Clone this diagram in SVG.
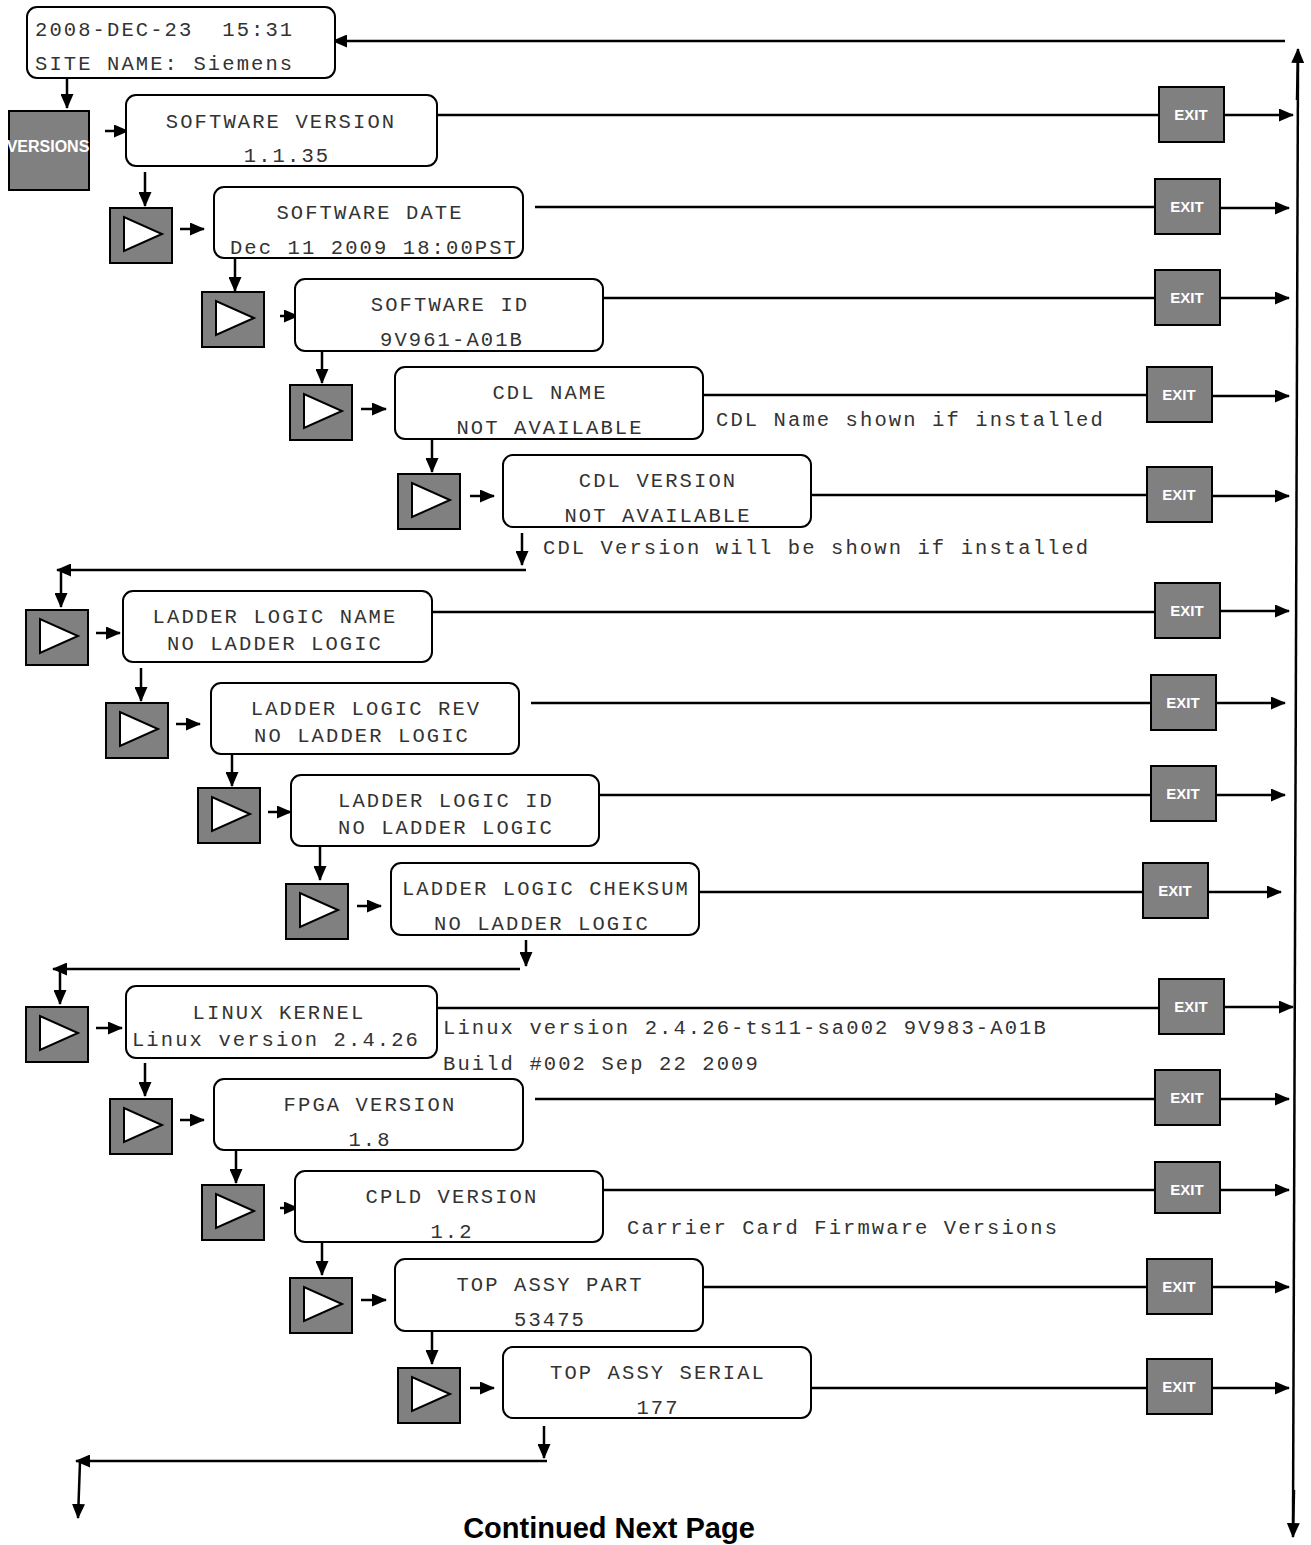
<svg xmlns="http://www.w3.org/2000/svg" width="1311" height="1545" viewBox="0 0 1311 1545">
<style>
.bx{fill:#fff;stroke:#000;stroke-width:2}
.mono{font-family:"Liberation Mono","Courier New",monospace;font-size:20.5px;letter-spacing:2.1px;fill:#333;white-space:pre}
.c{text-anchor:middle}
.btn{fill:#808080;stroke:#000;stroke-width:2}
.tri{fill:#fff;stroke:#000;stroke-width:2}
.bt{font-family:"Liberation Sans",Arial,sans-serif;font-weight:bold;fill:#fff;text-anchor:middle}
.ln{fill:none;stroke:#000;stroke-width:2.5}
.ar{fill:none;stroke:#000;stroke-width:2.5;marker-end:url(#ah)}
</style>
<defs>
<marker id="ah" markerUnits="userSpaceOnUse" markerWidth="15" markerHeight="13" refX="14" refY="6.5" orient="auto">
<path d="M0,0 L15,6.5 L0,13 z" fill="#000"/>
</marker>
<symbol id="play" viewBox="0 0 64 57"><rect class="btn" x="1" y="1" width="62" height="55"/><path class="tri" d="M15,10 L15,44 L53,27 z"/></symbol>
</defs>

<g id="connectors">
<path class="ar" d="M1285,41 L333,41"/>
<path class="ln" d="M1298,62 L1293,1525"/>
<path class="ar" d="M1297,100 L1298,49"/>
<path class="ar" d="M1294,1490 L1293,1537"/>
<path class="ar" d="M67,78 L67,108"/>
<path class="ar" d="M105,131 L128,131"/>
<path class="ln" d="M437,115 L1159,115"/><path class="ar" d="M1224,115 L1293,115"/>
<path class="ar" d="M145,172 L145,206"/>
<path class="ar" d="M180,229 L204,229"/>
<path class="ln" d="M535,207 L1155,207"/><path class="ar" d="M1220,208 L1289,208"/>
<path class="ar" d="M235,258 L235,291"/>
<path class="ar" d="M280,316 L298,316"/>
<path class="ln" d="M603,298 L1155,298"/><path class="ar" d="M1220,298 L1289,298"/>
<path class="ar" d="M322,351 L322,383"/>
<path class="ar" d="M361,409 L386,409"/>
<path class="ln" d="M703,395 L1147,395"/><path class="ar" d="M1212,396 L1289,396"/>
<path class="ar" d="M432,439 L432,472"/>
<path class="ar" d="M470,496 L494,496"/>
<path class="ln" d="M811,495 L1147,495"/><path class="ar" d="M1212,496 L1289,496"/>
<path class="ar" d="M522,533 L522,565"/>
<path class="ar" d="M526,570 L57,570"/>
<path class="ar" d="M61,572 L61,607"/>
<path class="ar" d="M96,633 L120,633"/>
<path class="ln" d="M432,612 L1155,612"/><path class="ar" d="M1220,611 L1289,611"/>
<path class="ar" d="M141,668 L141,701"/>
<path class="ar" d="M176,724 L200,724"/>
<path class="ln" d="M531,703 L1151,703"/><path class="ar" d="M1216,703 L1285,703"/>
<path class="ar" d="M232,754 L232,786"/>
<path class="ar" d="M268,812 L291,812"/>
<path class="ln" d="M599,795 L1151,795"/><path class="ar" d="M1216,795 L1285,795"/>
<path class="ar" d="M320,846 L320,880"/>
<path class="ar" d="M357,906 L381,906"/>
<path class="ln" d="M699,892 L1143,892"/><path class="ar" d="M1208,892 L1281,892"/>
<path class="ar" d="M526,940 L526,966"/>
<path class="ar" d="M520,969 L53,969"/>
<path class="ar" d="M60,970 L60,1004"/>
<path class="ar" d="M96,1028 L122,1028"/>
<path class="ln" d="M437,1008 L1159,1008"/><path class="ar" d="M1224,1007 L1293,1007"/>
<path class="ar" d="M145,1063 L145,1096"/>
<path class="ar" d="M180,1120 L204,1120"/>
<path class="ln" d="M535,1099 L1155,1099"/><path class="ar" d="M1220,1099 L1289,1099"/>
<path class="ar" d="M236,1150 L236,1183"/>
<path class="ar" d="M280,1208 L298,1208"/>
<path class="ln" d="M603,1190 L1155,1190"/><path class="ar" d="M1220,1190 L1289,1190"/>
<path class="ar" d="M322,1242 L322,1275"/>
<path class="ar" d="M361,1300 L386,1300"/>
<path class="ln" d="M703,1287 L1147,1287"/><path class="ar" d="M1212,1287 L1289,1287"/>
<path class="ar" d="M432,1331 L432,1364"/>
<path class="ar" d="M470,1388 L494,1388"/>
<path class="ln" d="M811,1388 L1147,1388"/><path class="ar" d="M1212,1388 L1289,1388"/>
<path class="ar" d="M544,1426 L544,1458"/>
<path class="ar" d="M547,1461 L76,1461"/>
<path class="ar" d="M80,1462 L78,1518"/>
</g>

<g id="home"><rect class="bx" x="27" y="7" width="308" height="71" rx="10"/>
<text class="mono" x="35" y="36">2008-DEC-23  15:31</text>
<text class="mono" x="35" y="70">SITE NAME: Siemens</text></g>

<g id="versions"><rect class="btn" x="9" y="111" width="80" height="79"/>
<text class="bt" x="48" y="152" font-size="16">VERSIONS</text></g>

<g id="n1"><rect class="bx" x="126" y="95" width="311" height="71" rx="10"/>
<text class="mono c" x="281" y="128">SOFTWARE VERSION</text><text class="mono c" x="287" y="162">1.1.35</text></g>
<g id="e1"><rect class="btn" x="1159" y="87" width="65" height="55"/><text class="bt" x="1191" y="120" font-size="15">EXIT</text></g>

<g id="p2"><use href="#play" x="109" y="207" width="64" height="57"/></g>
<g id="n2"><rect class="bx" x="214" y="187" width="309" height="71" rx="10"/>
<text class="mono c" x="370" y="219">SOFTWARE DATE</text><text class="mono c" x="374" y="254">Dec 11 2009 18:00PST</text></g>
<g id="e2"><rect class="btn" x="1155" y="179" width="65" height="55"/><text class="bt" x="1187" y="212" font-size="15">EXIT</text></g>

<g id="p3"><use href="#play" x="201" y="291" width="64" height="57"/></g>
<g id="n3"><rect class="bx" x="295" y="279" width="308" height="72" rx="10"/>
<text class="mono c" x="450" y="311">SOFTWARE ID</text><text class="mono c" x="452" y="346">9V961-A01B</text></g>
<g id="e3"><rect class="btn" x="1155" y="270" width="65" height="55"/><text class="bt" x="1187" y="303" font-size="15">EXIT</text></g>

<g id="p4"><use href="#play" x="289" y="384" width="64" height="57"/></g>
<g id="n4"><rect class="bx" x="395" y="367" width="308" height="72" rx="10"/>
<text class="mono c" x="550" y="399">CDL NAME</text><text class="mono c" x="550" y="434">NOT AVAILABLE</text></g>
<g id="e4"><rect class="btn" x="1147" y="367" width="65" height="55"/><text class="bt" x="1179" y="400" font-size="15">EXIT</text></g>
<text class="mono" x="716" y="426">CDL Name shown if installed</text>

<g id="p5"><use href="#play" x="397" y="473" width="64" height="57"/></g>
<g id="n5"><rect class="bx" x="503" y="455" width="308" height="72" rx="10"/>
<text class="mono c" x="658" y="487">CDL VERSION</text><text class="mono c" x="658" y="522">NOT AVAILABLE</text></g>
<g id="e5"><rect class="btn" x="1147" y="467" width="65" height="55"/><text class="bt" x="1179" y="500" font-size="15">EXIT</text></g>
<text class="mono" x="543" y="554">CDL Version will be shown if installed</text>

<g id="p6"><use href="#play" x="25" y="609" width="64" height="57"/></g>
<g id="n6"><rect class="bx" x="123" y="591" width="309" height="71" rx="10"/>
<text class="mono c" x="275" y="623">LADDER LOGIC NAME</text><text class="mono c" x="275" y="650">NO LADDER LOGIC</text></g>
<g id="e6"><rect class="btn" x="1155" y="583" width="65" height="55"/><text class="bt" x="1187" y="616" font-size="15">EXIT</text></g>

<g id="p7"><use href="#play" x="105" y="702" width="64" height="57"/></g>
<g id="n7"><rect class="bx" x="211" y="683" width="308" height="71" rx="10"/>
<text class="mono c" x="366" y="715">LADDER LOGIC REV</text><text class="mono c" x="362" y="742">NO LADDER LOGIC</text></g>
<g id="e7"><rect class="btn" x="1151" y="675" width="65" height="55"/><text class="bt" x="1183" y="708" font-size="15">EXIT</text></g>

<g id="p8"><use href="#play" x="197" y="787" width="64" height="57"/></g>
<g id="n8"><rect class="bx" x="291" y="775" width="308" height="71" rx="10"/>
<text class="mono c" x="446" y="807">LADDER LOGIC ID</text><text class="mono c" x="446" y="834">NO LADDER LOGIC</text></g>
<g id="e8"><rect class="btn" x="1151" y="766" width="65" height="55"/><text class="bt" x="1183" y="799" font-size="15">EXIT</text></g>

<g id="p9"><use href="#play" x="285" y="883" width="64" height="57"/></g>
<g id="n9"><rect class="bx" x="391" y="863" width="308" height="72" rx="10"/>
<text class="mono c" x="546" y="895">LADDER LOGIC CHEKSUM</text><text class="mono c" x="542" y="930">NO LADDER LOGIC</text></g>
<g id="e9"><rect class="btn" x="1143" y="863" width="65" height="55"/><text class="bt" x="1175" y="896" font-size="15">EXIT</text></g>

<g id="p10"><use href="#play" x="25" y="1006" width="64" height="57"/></g>
<g id="n10"><rect class="bx" x="126" y="986" width="311" height="72" rx="10"/>
<text class="mono c" x="279" y="1019">LINUX KERNEL</text><text class="mono c" x="276" y="1046">Linux version 2.4.26</text></g>
<g id="e10"><rect class="btn" x="1159" y="979" width="65" height="55"/><text class="bt" x="1191" y="1012" font-size="15">EXIT</text></g>
<text class="mono" x="443" y="1034">Linux version 2.4.26-ts11-sa002 9V983-A01B</text>
<text class="mono" x="443" y="1070">Build #002 Sep 22 2009</text>

<g id="p11"><use href="#play" x="109" y="1098" width="64" height="57"/></g>
<g id="n11"><rect class="bx" x="214" y="1079" width="309" height="71" rx="10"/>
<text class="mono c" x="370" y="1111">FPGA VERSION</text><text class="mono c" x="370" y="1146">1.8</text></g>
<g id="e11"><rect class="btn" x="1155" y="1070" width="65" height="55"/><text class="bt" x="1187" y="1103" font-size="15">EXIT</text></g>

<g id="p12"><use href="#play" x="201" y="1184" width="64" height="57"/></g>
<g id="n12"><rect class="bx" x="295" y="1171" width="308" height="71" rx="10"/>
<text class="mono c" x="452" y="1203">CPLD VERSION</text><text class="mono c" x="452" y="1238">1.2</text></g>
<g id="e12"><rect class="btn" x="1155" y="1162" width="65" height="51"/><text class="bt" x="1187" y="1195" font-size="15">EXIT</text></g>
<text class="mono" x="627" y="1234">Carrier Card Firmware Versions</text>

<g id="p13"><use href="#play" x="289" y="1277" width="64" height="57"/></g>
<g id="n13"><rect class="bx" x="395" y="1259" width="308" height="72" rx="10"/>
<text class="mono c" x="550" y="1291">TOP ASSY PART</text><text class="mono c" x="550" y="1326">53475</text></g>
<g id="e13"><rect class="btn" x="1147" y="1259" width="65" height="55"/><text class="bt" x="1179" y="1292" font-size="15">EXIT</text></g>

<g id="p14"><use href="#play" x="397" y="1367" width="64" height="57"/></g>
<g id="n14"><rect class="bx" x="503" y="1347" width="308" height="71" rx="10"/>
<text class="mono c" x="658" y="1379">TOP ASSY SERIAL</text><text class="mono c" x="658" y="1414">177</text></g>
<g id="e14"><rect class="btn" x="1147" y="1359" width="65" height="55"/><text class="bt" x="1179" y="1392" font-size="15">EXIT</text></g>

<text x="609" y="1538" font-family="'Liberation Sans',Arial,sans-serif" font-weight="bold" font-size="29" text-anchor="middle" fill="#000">Continued Next Page</text>
</svg>
